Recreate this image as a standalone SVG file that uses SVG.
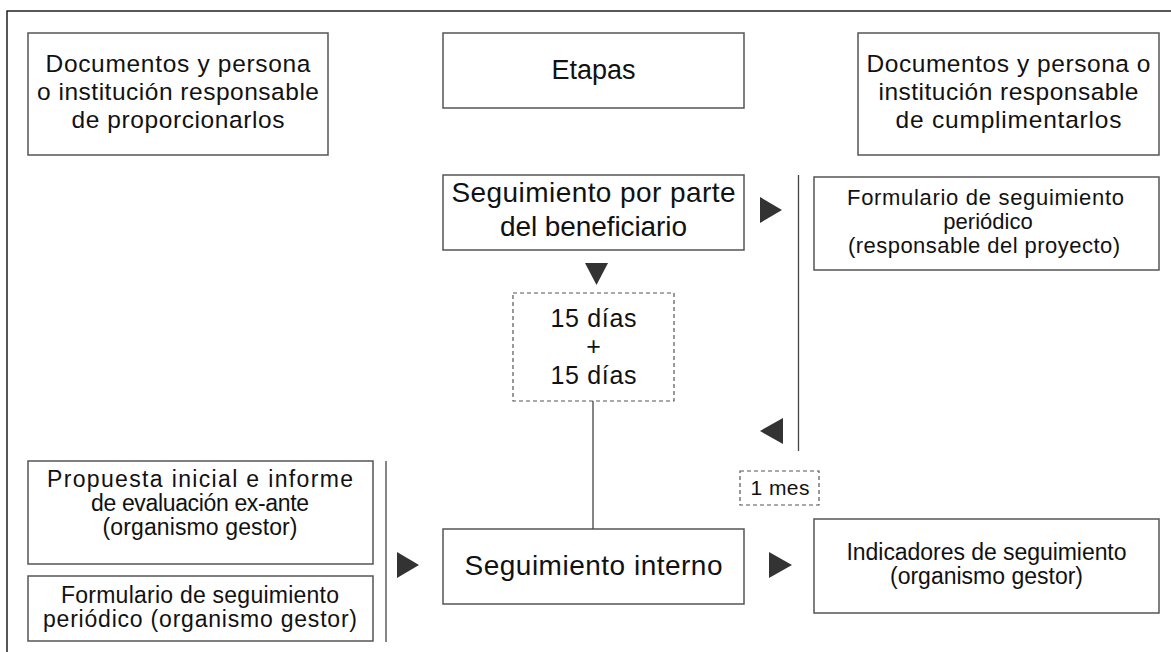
<svg xmlns="http://www.w3.org/2000/svg" width="1171" height="652" viewBox="0 0 1171 652">
<style>
text{font-family:"Liberation Sans",Arial,sans-serif;fill:#111;text-anchor:middle}
.box{fill:#fff;stroke:#555;stroke-width:1.5}
.dash{fill:#fff;stroke:#555;stroke-width:1.2;stroke-dasharray:4 3}
.ln{stroke:#444;stroke-width:1.3;fill:none}
.ar{fill:#333}
.h{font-size:24.5px}
.e{font-size:27px}
.s{font-size:28px}
.d{font-size:25px}
.n{font-size:23px}
.f{font-size:22px}
.m{font-size:21px}
</style>
<rect x="7" y="11" width="1180" height="660" fill="#fff" stroke="#111" stroke-width="1.4"/>
<g id="hdr-left">
<rect class="box" x="28" y="33" width="300" height="122"/>
<text class="h" x="178" y="72" textLength="265" lengthAdjust="spacing">Documentos y persona</text>
<text class="h" x="178" y="100" textLength="282" lengthAdjust="spacing">o institución responsable</text>
<text class="h" x="178" y="128" textLength="213" lengthAdjust="spacing">de proporcionarlos</text>
</g>
<g id="hdr-center">
<rect class="box" x="443" y="33" width="301" height="75"/>
<text class="e" x="593.5" y="79">Etapas</text>
</g>
<g id="hdr-right">
<rect class="box" x="858" y="33" width="301" height="122"/>
<text class="h" x="1008.5" y="72" textLength="284" lengthAdjust="spacing">Documentos y persona o</text>
<text class="h" x="1008.5" y="100" textLength="260" lengthAdjust="spacing">institución responsable</text>
<text class="h" x="1008.5" y="128" textLength="226" lengthAdjust="spacing">de cumplimentarlos</text>
</g>
<g id="benef">
<rect class="box" x="443" y="175" width="301" height="75"/>
<text class="s" x="593.5" y="202" textLength="284" lengthAdjust="spacing">Seguimiento por parte</text>
<text class="s" x="593.5" y="236" textLength="187" lengthAdjust="spacing">del beneficiario</text>
</g>
<g id="form-right">
<rect class="box" x="814" y="177" width="345" height="93"/>
<text class="f" x="985.5" y="205" textLength="277" lengthAdjust="spacing">Formulario de seguimiento</text>
<text class="f" x="988" y="229">periódico</text>
<text class="f" x="984" y="253" textLength="272" lengthAdjust="spacing">(responsable del proyecto)</text>
</g>
<g id="dias">
<rect class="dash" x="513" y="293" width="161" height="108"/>
<text class="d" x="593.5" y="327" textLength="86" lengthAdjust="spacing">15 días</text>
<text class="d" x="593.5" y="355">+</text>
<text class="d" x="593.5" y="384" textLength="86" lengthAdjust="spacing">15 días</text>
</g>
<g id="propuesta">
<rect class="box" x="28" y="461" width="345" height="103"/>
<text class="n" x="200" y="487" textLength="306" lengthAdjust="spacing">Propuesta inicial e informe</text>
<text class="n" x="200" y="511" textLength="218" lengthAdjust="spacing">de evaluación ex-ante</text>
<text class="n" x="200" y="535" textLength="195" lengthAdjust="spacing">(organismo gestor)</text>
</g>
<g id="form-left">
<rect class="box" x="28" y="576" width="345" height="65"/>
<text class="n" x="200" y="603" textLength="278" lengthAdjust="spacing">Formulario de seguimiento</text>
<text class="n" x="200" y="627" textLength="314" lengthAdjust="spacing">periódico (organismo gestor)</text>
</g>
<g id="interno">
<rect class="box" x="443" y="529" width="301" height="75"/>
<text class="s" x="593.5" y="575" textLength="258" lengthAdjust="spacing">Seguimiento interno</text>
</g>
<g id="mes">
<rect class="dash" x="740" y="471" width="79" height="34"/>
<text class="m" x="780" y="495" textLength="59" lengthAdjust="spacing">1 mes</text>
</g>
<g id="indicadores">
<rect class="box" x="814" y="519" width="345" height="94"/>
<text class="n" x="986.5" y="560" textLength="280" lengthAdjust="spacing">Indicadores de seguimiento</text>
<text class="n" x="986.5" y="584" textLength="193" lengthAdjust="spacing">(organismo gestor)</text>
</g>
<g id="connectors">
<line class="ln" x1="798.5" y1="175" x2="798.5" y2="451"/>
<line class="ln" x1="386" y1="461" x2="386" y2="642"/>
<line class="ln" x1="593" y1="401" x2="593" y2="529"/>
<polygon class="ar" points="760,197 782,210 760,223"/>
<polygon class="ar" points="585,263 608,263 596.5,285"/>
<polygon class="ar" points="783,418 760,431 783,444"/>
<polygon class="ar" points="397,552 419,565 397,578"/>
<polygon class="ar" points="769,552 792,565 769,578"/>
</g>
</svg>
